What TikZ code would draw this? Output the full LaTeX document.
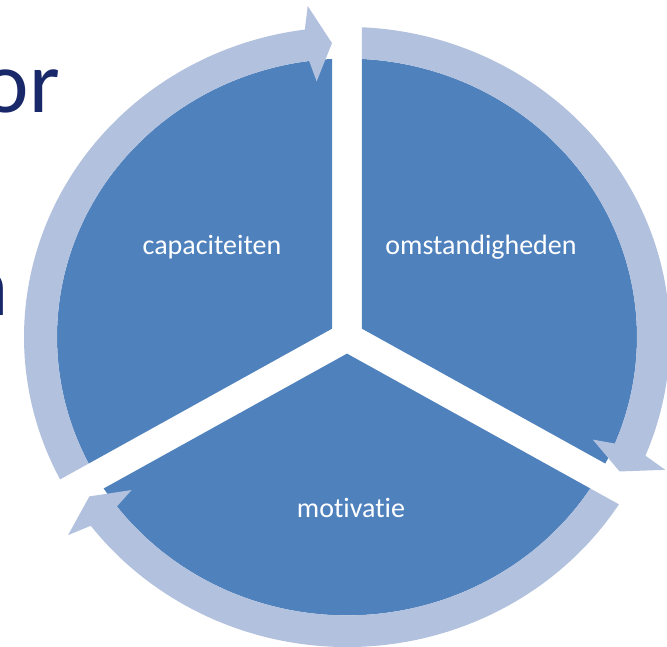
\documentclass[tikz,border=0pt]{standalone}
\usepackage{xcolor}
\usepackage{fontspec}
\setmainfont{Carlito}[Ligatures={NoCommon,NoRequired,NoContextual}]
\usepackage{tikz}
\usetikzlibrary{positioning,calc}

\definecolor{piefill}{RGB}{79,129,189}
\definecolor{ringfill}{RGB}{178,193,221}
\definecolor{slidenavy}{RGB}{24,40,104}

\begin{document}
\begin{tikzpicture}[
			x = 1pt, y = 1pt,
			every node/.style = {inner sep = 0pt},
			segtext/.style = {text = white, font = \fontsize{28}{34}\selectfont},
			slidetext/.style = {text = slidenavy, font = \fontsize{88}{100}\selectfont},
			declare function ={
				off(\r) = asin(15/\r);
			}
			]

			\useasboundingbox (-347,-310) rectangle (320,337);
			\clip (-347,-310) rectangle (320,337);

			\node[slidetext, anchor = base east] (or) at (-287,224) {or};
			\node[slidetext, anchor = base east] (n) at (-338,21) {n};

			\begin{scope}[yscale = 0.96]
				\foreach \a/\b in {90/210,-30/90,210/330}{
					\fill[piefill] ({(\a+\b)/2}:17.3) -- ({\a+off(290)}:290) arc[start angle = {\a+off(290)}, end angle = {\b-off(290)}, radius = 290] -- cycle;
					\fill[ringfill] ({\b-off(323)}:323) arc[start angle = {\b-off(323)}, end angle = {\a+7.5}, radius = 323]
						-- ({\a+6.5}:347) -- ({\a+off(306.5)}:306.5) -- ({\a+6.5}:268) -- ({\a+7.5}:290)
						arc[start angle = {\a+7.5}, end angle = {\b-off(290)}, radius = 290] -- cycle;
				}
			\end{scope}

			\node[segtext] (cap) at (-135,90) {capaciteiten};
			\node[segtext] (omst) at (134,90) {omstandigheden};
			\node[segtext] (mot) at (4,-171) {motivatie};

		\end{tikzpicture}
\end{document}
